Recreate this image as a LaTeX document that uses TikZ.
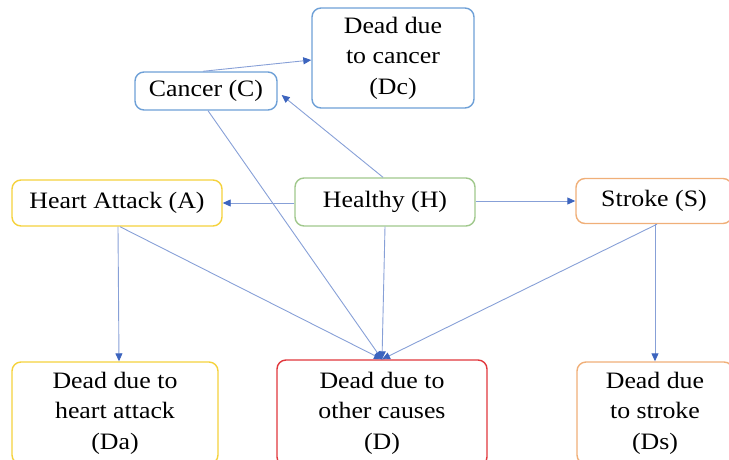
\documentclass[tikz,border=0pt]{standalone}
\usepackage{fontspec}
\setmainfont{Liberation Serif}[FakeStretch=1.1]
\usetikzlibrary{arrows.meta,calc}
\definecolor{cblue}{RGB}{110,160,215}
\definecolor{cyel}{RGB}{245,210,60}
\definecolor{cgreen}{RGB}{160,200,140}
\definecolor{corange}{RGB}{240,175,120}
\definecolor{cred}{RGB}{225,55,60}
\definecolor{lineblue}{RGB}{135,160,215}
\definecolor{headblue}{RGB}{60,100,190}
\tikzset{
  box/.style={draw, line width=1.4pt, rounded corners=9pt, fill=white, align=center,
    font=\fontsize{23.5}{30.5}\selectfont, inner sep=0pt},
  conn/.style={draw=lineblue, line width=0.9pt, -{Triangle[length=8pt,width=7pt,fill=headblue,color=headblue]}}
}
\begin{document}
\begin{tikzpicture}[x=1pt,y=-1pt]
\useasboundingbox (0,0) rectangle (729,459);
\node[box, draw=cblue, minimum width=162pt, minimum height=100pt] (Dc) at (393,58) {Dead due\\to cancer\\(Dc)};
\node[box, draw=cblue, minimum width=142pt, minimum height=38pt] (C) at (206,91) {Cancer (C)};
\node[box, draw=cyel, minimum width=210pt, minimum height=46pt] (A) at (117,203) {Heart Attack (A)};
\node[box, draw=cgreen, minimum width=180pt, minimum height=48pt] (H) at (385,202) {Healthy (H)};
\node[box, draw=corange, minimum width=156pt, minimum height=45pt] (S) at (654,201) {Stroke (S)};
\node[box, draw=cyel, minimum width=206pt, minimum height=102pt] (Da) at (115,413) {Dead due to\\heart attack\\(Da)};
\node[box, draw=cred, minimum width=210pt, minimum height=106pt] (D) at (382,413) {Dead due to\\other causes\\(D)};
\node[box, draw=corange, minimum width=156pt, minimum height=102pt] (Ds) at (655,413) {Dead due\\to stroke\\(Ds)};
\coordinate (dtop) at (D.north);
\draw[conn] (H.west |- A.east) -- (A.east);
\draw[conn] (H.east |- S.west) -- (S.west);
\draw[conn] ($(H.north)+(-2,0)$) -- ($(C.east)+(4,4)$);
\draw[conn] ($(C.north)+(-3,0)$) -- ($(Dc.west)+(0,2)$);
\draw[conn] ($(C.south)+(2,0)$) -- (dtop);
\draw[conn] (H.south) -- (dtop);
\draw[conn] ($(A.south)+(3,0)$) -- (dtop);
\draw[conn] ($(S.south)+(3,0)$) -- (dtop);
\draw[conn] ($(A.south)+(1,0)$) -- ($(Da.north)+(4,0)$);
\draw[conn] ($(S.south)+(1,0)$) -- (Ds.north);
\end{tikzpicture}
\end{document}
